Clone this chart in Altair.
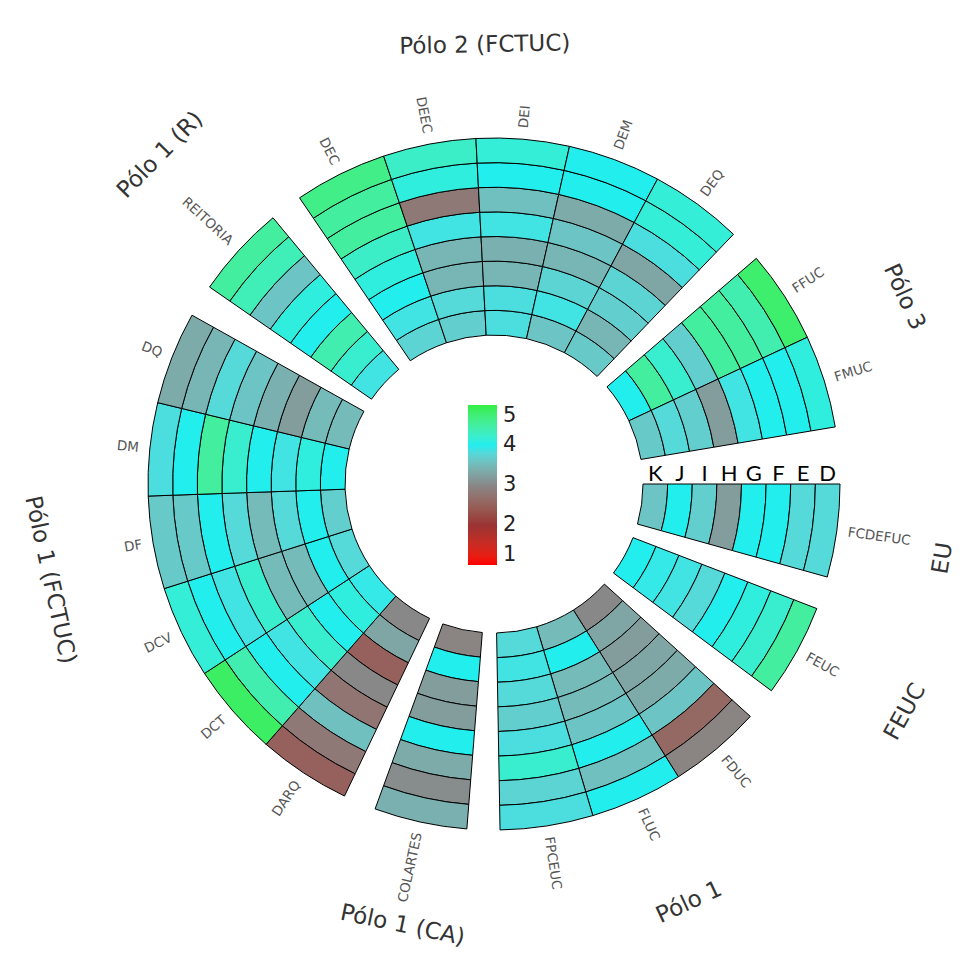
import math
import altair as alt
import pandas as pd

# ---------------- data ----------------
groups = ["EU", "FEUC", "Pólo 1", "Pólo 1 (CA)", "Pólo 1 (FCTUC)",
          "Pólo 1 (R)", "Pólo 2 (FCTUC)", "Pólo 3"]
segments = ["FCDEFUC", "FEUC", "FDUC", "FLUC", "FPCEUC", "COLARTES",
            "DARQ", "DCT", "DCV", "DF", "DM", "DQ", "REITORIA",
            "DEC", "DEEC", "DEI", "DEM", "DEQ", "FFUC", "FMUC"]
segment_group = ["EU", "FEUC", "Pólo 1", "Pólo 1", "Pólo 1", "Pólo 1 (CA)",
                 "Pólo 1 (FCTUC)", "Pólo 1 (FCTUC)", "Pólo 1 (FCTUC)",
                 "Pólo 1 (FCTUC)", "Pólo 1 (FCTUC)", "Pólo 1 (FCTUC)",
                 "Pólo 1 (R)", "Pólo 2 (FCTUC)", "Pólo 2 (FCTUC)",
                 "Pólo 2 (FCTUC)", "Pólo 2 (FCTUC)", "Pólo 2 (FCTUC)",
                 "Pólo 3", "Pólo 3"]
ring_labels = ["K", "J", "I", "H", "G", "F", "E", "D"]  # inner -> outer

# one list per ring, values in the order of `segments`
K = [3.6, 4.0, 3.0, 3.5, 3.8, 2.95, 3.0, 3.95, 3.8, 3.7, 4.0, 3.5, 3.9,
     3.75, 3.7, 3.85, 3.6, 3.65, 4.0, 3.65]
J = [4.0, 3.95, 3.3, 4.0, 3.9, 4.0, 3.3, 4.1, 4.0, 4.0, 4.1, 3.5, 4.2,
     3.9, 3.8, 3.85, 3.9, 3.45, 4.5, 3.8]
I = [3.7, 3.9, 3.2, 3.5, 3.8, 3.2, 2.5, 4.0, 3.5, 3.8, 3.9, 3.2, 4.4,
     4.0, 3.45, 3.45, 3.75, 3.7, 4.2, 3.7]
H = [3.2, 3.8, 3.3, 3.5, 3.7, 3.2, 3.0, 4.2, 3.5, 3.5, 4.0, 3.4, 4.0,
     4.1, 3.45, 3.4, 3.45, 3.75, 3.7, 3.2]
G = [4.0, 4.0, 3.35, 3.6, 3.85, 4.0, 2.75, 3.9, 4.2, 3.8, 4.2, 3.6, 4.1,
     4.25, 3.9, 3.9, 3.6, 3.3, 4.5, 3.9]
F = [4.0, 4.1, 3.6, 4.0, 4.2, 3.35, 3.55, 4.0, 3.9, 4.0, 4.5, 3.8, 3.6,
     4.5, 2.8, 3.55, 3.35, 3.85, 4.5, 4.0]
E = [3.8, 4.2, 2.6, 3.55, 3.75, 3.05, 2.8, 4.4, 4.0, 3.65, 4.0, 3.45, 4.35,
     4.5, 4.1, 4.0, 4.0, 4.15, 4.4, 4.0]
D = [3.8, 4.5, 2.95, 4.0, 3.85, 3.4, 2.5, 4.85, 4.15, 3.65, 3.85, 3.35, 4.5,
     4.65, 4.25, 4.15, 4.0, 4.15, 4.8, 4.1]
ring_values = [K, J, I, H, G, F, E, D]

legend_values = [1, 2, 3, 4, 5]
color_stops = [1, 2, 3, 4, 5]
color_colors = ["#ff0000", "#993333", "#888888", "#22eeee", "#33ee44"]

# ---------------- layout ----------------
CX, CY = 486, 476          # circle centre in chart coordinates
R_IN, R_OUT = 149, 346     # inner / outer radius of the rings (px)
START = 90.0               # first sector starts at 3 o'clock
SEG = 15.6                 # degrees per sector
GAP = 5.5                  # degrees between groups
LABEL_R = 8.45             # sector label radius, in ring units
# group title placement (degrees, ring units)
title_theta = [99.4, 119.0, 155.0, 191.7, 257.8, 314.6, 358.8, 65.5]
title_radius = [12.42, 13.04, 12.7, 12.25, 12.39, 12.99, 11.78, 12.26]

seg_start = []
t = START
prev = None
for g in segment_group:
    if prev is not None and g != prev:
        t += GAP
    seg_start.append(t % 360)
    t += SEG
    prev = g

cells = []
for si, seg in enumerate(segments):
    for ri, vals in enumerate(ring_values):
        cells.append({"segment": seg, "ring": ring_labels[ri],
                      "t0": seg_start[si], "t1": seg_start[si] + SEG,
                      "r0": ri, "r1": ri + 1, "value": vals[si]})
cells = pd.DataFrame(cells)

labels = []
for si, seg in enumerate(segments):
    mid = (seg_start[si] + SEG / 2) % 360
    right = mid < 180
    ang = (mid - 90) % 360 if right else (mid + 90) % 360
    labels.append({"label": seg, "t": mid, "r": LABEL_R, "ang": ang,
                   "side": "right" if right else "left"})
labels = pd.DataFrame(labels)

titles = []
for g, th, rr in zip(groups, title_theta, title_radius):
    ang = (th - 180) % 360 if 90 < th < 270 else th % 360
    titles.append({"label": g, "t": th, "r": rr, "ang": ang})
titles = pd.DataFrame(titles)

rings = pd.DataFrame({"label": ring_labels,
                      "t": [90.0] * len(ring_labels),
                      "r": [i + 0.5 for i in range(len(ring_labels))]})

theta_scale = alt.Scale(domain=[0, 360], range=[0, 2 * math.pi])
rad_scale = alt.Scale(type="linear", domain=[0, 8], range=[R_IN, R_OUT])
color_scale = alt.Scale(domain=color_stops, range=color_colors,
                        interpolate="lab")

arcs = alt.Chart(cells).mark_arc(stroke="#000000", strokeWidth=1).encode(
    theta=alt.Theta("t0:Q", scale=theta_scale),
    theta2="t1:Q",
    radius=alt.Radius("r0:Q", scale=rad_scale),
    radius2="r1:Q",
    x=alt.value(CX),
    y=alt.value(CY),
    color=alt.Color("value:Q", scale=color_scale,
                    legend=alt.Legend(orient="none", legendX=460, legendY=397,
                                      title=None, direction="vertical",
                                      gradientLength=160,
                                      gradientThickness=29,
                                      gradientStrokeWidth=0,
                                      values=legend_values,
                                      labelFontSize=21,
                                      labelFont="DejaVu Sans",
                                      labelColor="#222222",
                                      labelOffset=6)),
)


def polar_text(df, **mark):
    return alt.Chart(df).mark_text(**mark).encode(
        theta=alt.Theta("t:Q", scale=theta_scale),
        radius=alt.Radius("r:Q", scale=rad_scale),
        x=alt.value(CX),
        y=alt.value(CY),
        text="label:N",
    )


lab_right = polar_text(labels, align="left", baseline="middle",
                       font="DejaVu Sans", fontSize=13.5, color="#555555"
                       ).encode(angle=alt.Angle("ang:Q", scale=None)
                                ).transform_filter(alt.datum.side == "right")
lab_left = polar_text(labels, align="right", baseline="middle",
                      font="DejaVu Sans", fontSize=13.5, color="#555555"
                      ).encode(angle=alt.Angle("ang:Q", scale=None)
                               ).transform_filter(alt.datum.side == "left")
title_text = polar_text(titles, align="center", baseline="middle",
                        font="DejaVu Sans", fontSize=23, color="#333333"
                        ).encode(angle=alt.Angle("ang:Q", scale=None))
ring_text = polar_text(rings, align="center", baseline="alphabetic",
                       font="Lato", fontSize=22, color="#000000", dy=-3)

chart = alt.layer(arcs, lab_right, lab_left, title_text, ring_text).properties(
    width=949, height=941, padding=0, autosize=alt.AutoSizeParams(type="none")
).configure_view(stroke=None)

chart.save("out.html", embed_options={"renderer": "svg", "actions": False})
